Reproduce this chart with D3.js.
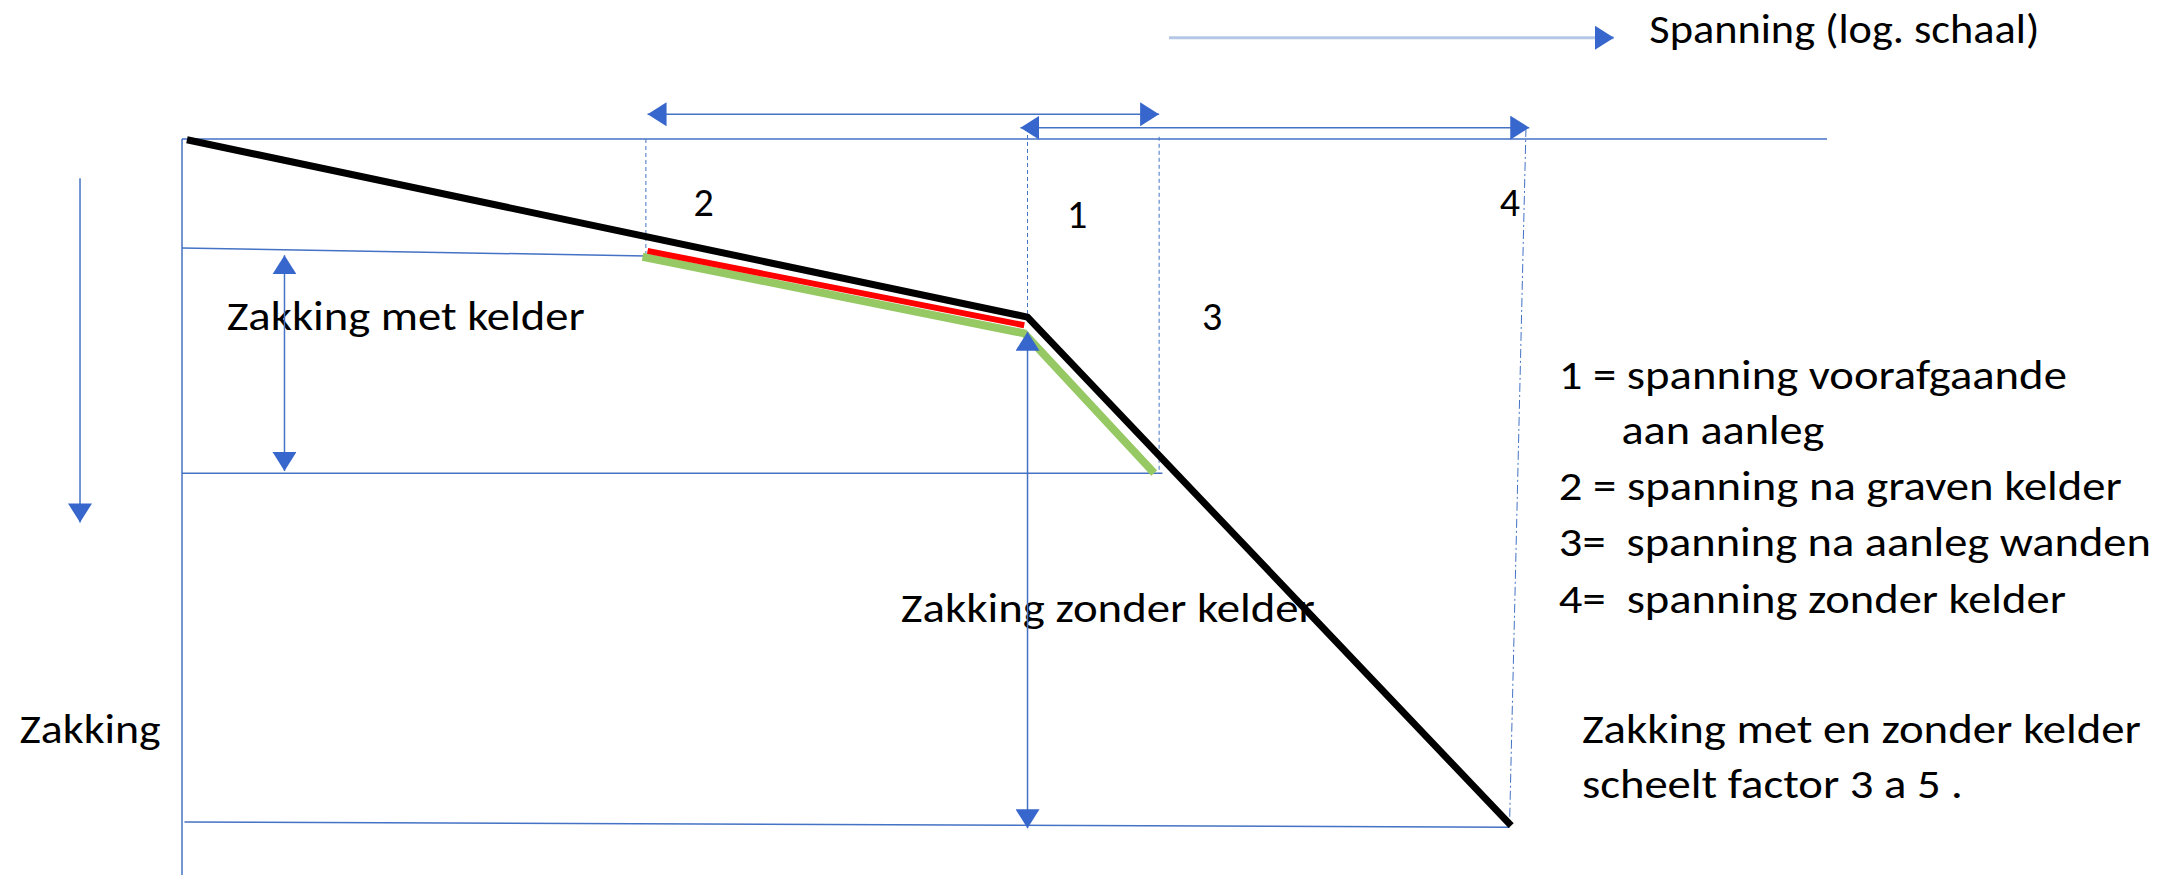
<!DOCTYPE html>
<html>
<head>
<meta charset="utf-8">
<script src="https://cdn.jsdelivr.net/npm/d3@7"></script>
<style>
  body { margin: 0; background: #fff; }
  svg  { display: block; }
  text { font-family: Carlito, Calibri, Lato, "Open Sans", sans-serif; font-size: 40px; fill: #000; white-space: pre; }
</style>
</head>
<body>
<div id="chart"></div>
<script>
// Zakking vs spanning (log) — schematic oedometer curve, with and without a cellar.
// Everything lives in diagram units: x = log-spanning 0..100, y = zakking 0..100.

// --- curves ---------------------------------------------------------------
const curveZonderKelder = [[0.3, 0.1], [51.4, 24.2], [80.8, 93.3]];   // black
const curveOntlasting   = [[28.3, 15.2], [51.2, 25.3]];                // red
const curveMetKelder    = [[28.0, 16.0], [51.2, 26.4], [59.1, 45.4]];  // green

// --- guide lines (solid, thin blue) ---------------------------------------
const guideLines = [
  [[0, 0], [100, 0]],          // spanning baseline
  [[0, 0], [0, 100]],          // zakking axis
  [[0, 14.8], [28.2, 15.9]],   // zakking at state 2
  [[0, 45.4], [59.6, 45.4]],   // zakking at state 3
  [[0.15, 92.8], [80.7, 93.5]] // zakking at state 4
];

// --- stress states (vertical drop lines + number labels) ------------------
const stateNames  = ['2', '1', '3', '4'];
const stateTop    = [[28.2, 0], [51.4, -1.5], [59.4, -0.3], [81.7, -1.5]];
const stateBottom = [[28.2, 15.6], [51.4, 24.2], [59.4, 45.4], [80.7, 93.4]];
const stateLabelX = [31.1, 53.8, 62.0, 80.1];
const stateLabelY = [10.46, 12.1, 25.95, 10.46];

// --- dimension arrows: [from, to, both ends?] -----------------------------
const dimArrows = [
  [[28.3, -3.36], [59.4, -3.36], true],   // 2 <-> 3
  [[50.97, -1.54], [81.9, -1.54], true],  // 1 <-> 4
  [[6.23, 15.8], [6.23, 45.1], true],     // zakking met kelder
  [[51.4, 26.2], [51.4, 93.65], true],    // zakking zonder kelder
  [[-6.2, 5.34], [-6.2, 52.1], false]     // zakking axis direction
];
const spanningArrow = [[60.0, -13.76], [87.05, -13.76]];

// --- texts ----------------------------------------------------------------
const labelTexts = ['Zakking met kelder', 'Zakking zonder kelder', 'Zakking', 'Spanning (log. schaal)'];
const labelX     = [2.72, 43.7, -9.87, 89.2];
const labelY     = [26.0, 65.6, 82.1, -13.0];

const legendTexts = ['1 = spanning voorafgaande', 'aan aanleg', '2 = spanning na graven kelder',
                     '3=  spanning na aanleg wanden', '4=  spanning zonder kelder'];
const legendX     = [83.7, 87.5, 83.7, 83.7, 83.7];
const legendY     = [33.9, 41.4, 49.1, 56.7, 64.35];

const noteTexts = ['Zakking met en zonder kelder', 'scheelt factor 3 a 5 .'];
const noteX     = [85.1, 85.1];
const noteY     = [82.0, 89.6];

// Rendered ink widths, px — the original face is narrower than what we have.
const fitWidth = {
  'Zakking met kelder': 358, 'Zakking zonder kelder': 414, 'Zakking': 141,
  'Spanning (log. schaal)': 390, '1 = spanning voorafgaande': 508, 'aan aanleg': 203,
  '2 = spanning na graven kelder': 563, '3=  spanning na aanleg wanden': 592,
  '4=  spanning zonder kelder': 507, 'Zakking met en zonder kelder': 559,
  'scheelt factor 3 a 5 .': 381
};

const W = 2177, H = 875;
const BLUE = '#4472c4', HEAD = '#3766cc';

const x = d3.scaleLinear().domain([0, 100]).range([182, 1827]);
const y = d3.scaleLinear().domain([0, 100]).range([139, 875]);
const line = d3.line().x(d => x(d[0])).y(d => y(d[1]));

const svg = d3.select('#chart').append('svg').attr('width', W).attr('height', H);

svg.append('defs').append('marker')
  .attr('id', 'tri')
  .attr('viewBox', '0 0 19 24')
  .attr('refX', 19).attr('refY', 12)
  .attr('markerWidth', 19).attr('markerHeight', 24)
  .attr('markerUnits', 'userSpaceOnUse')
  .attr('orient', 'auto-start-reverse')
  .append('path').attr('d', 'M0,0L19,12L0,24Z').attr('fill', HEAD);

// texts go underneath; the lines cross them in the original
const addText = (g, t, tx, ty) => {
  const el = g.append('text').attr('x', x(tx)).attr('y', y(ty)).text(t);
  if (fitWidth[t]) el.attr('textLength', fitWidth[t]).attr('lengthAdjust', 'spacingAndGlyphs');
};
const gText = svg.append('g');
labelTexts.forEach((t, i) => addText(gText, t, labelX[i], labelY[i]));
legendTexts.forEach((t, i) => addText(gText, t, legendX[i], legendY[i]));
noteTexts.forEach((t, i) => addText(gText, t, noteX[i], noteY[i]));
stateNames.forEach((t, i) => addText(gText, t, stateLabelX[i], stateLabelY[i]));

// guides
svg.append('g').selectAll('path').data(guideLines).join('path')
  .attr('d', line).attr('fill', 'none').attr('stroke', BLUE).attr('stroke-width', 1.5);

// state drop lines: dashed, state 4 dash-dot
svg.append('g').selectAll('path').data(stateNames).join('path')
  .attr('d', (d, i) => line([stateTop[i], stateBottom[i]]))
  .attr('fill', 'none').attr('stroke', BLUE).attr('stroke-width', 1)
  .attr('stroke-dasharray', d => d === '4' ? '9,3,2,3' : '4,3');

// curves
const curves = svg.append('g').attr('fill', 'none').attr('stroke-linejoin', 'miter');
curves.append('path').attr('d', line(curveMetKelder)).attr('stroke', '#96c864').attr('stroke-width', 8);
curves.append('path').attr('d', line(curveOntlasting)).attr('stroke', '#ff0000').attr('stroke-width', 6);
curves.append('path').attr('d', line(curveZonderKelder)).attr('stroke', '#000').attr('stroke-width', 7);

// dimension arrows
svg.append('g').selectAll('path').data(dimArrows).join('path')
  .attr('d', d => line([d[0], d[1]]))
  .attr('fill', 'none').attr('stroke', BLUE).attr('stroke-width', 1.5)
  .attr('marker-end', 'url(#tri)')
  .attr('marker-start', d => d[2] ? 'url(#tri)' : null);

svg.append('path').attr('d', line(spanningArrow))
  .attr('fill', 'none').attr('stroke', '#b4c7e7').attr('stroke-width', 3)
  .attr('marker-end', 'url(#tri)');
</script>
</body>
</html>
